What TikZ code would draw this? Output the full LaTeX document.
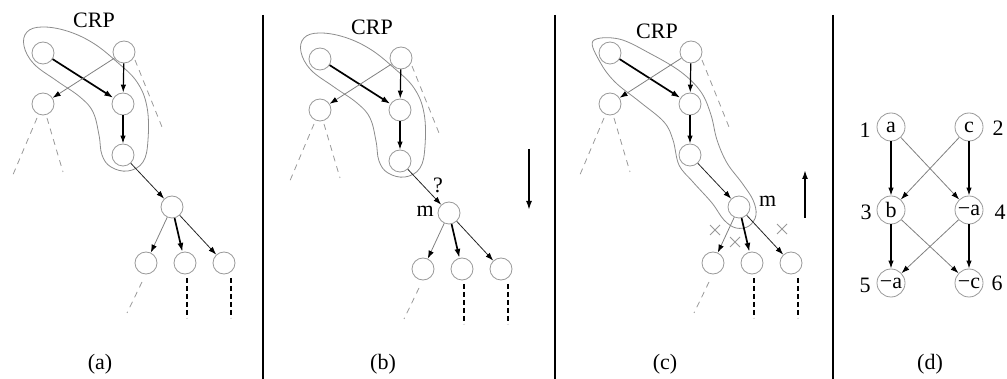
\documentclass[tikz,border=0pt]{standalone}
\usepackage{fontspec}
\setmainfont{Liberation Serif}
\usetikzlibrary{arrows.meta}
\tikzset{
  nd/.style={circle,draw=black!40,line width=0.8pt,minimum size=22pt,inner sep=0pt},
  dnd/.style={circle,draw=black!40,line width=0.8pt,minimum size=28pt,inner sep=0pt,font=\fontsize{22}{24}\selectfont},
  bold/.style={line width=1.7pt,-{Latex[length=9pt,width=6pt]}},
  arr/.style={line width=1.2pt,-{Latex[length=8pt,width=5.5pt]}},
  thin/.style={draw=black!50,line width=0.8pt,-{Latex[length=8pt,width=5.5pt,color=black]}},
  dark/.style={draw=black!85,line width=0.8pt,-{Latex[length=8pt,width=5.5pt,color=black]}},
  ghost/.style={draw=black!40,line width=0.8pt,dash pattern=on 6pt off 5pt},
  cont/.style={line width=1.6pt,dash pattern=on 5pt off 3pt},
  lbl/.style={font=\fontsize{22}{26}\selectfont,inner sep=0pt},
  blob/.style={draw=black!45,line width=0.8pt},
  sep/.style={line width=1.6pt},
  xmark/.style={draw=black!40,line width=0.8pt},
}
% one search tree: prefix #1 names its nodes
\newcommand{\searchtree}[1]{%
  \node[nd] (#1r) at (43,53) {};
  \node[nd] (#1s) at (124,52) {};
  \node[nd] (#1l) at (43,104) {};
  \node[nd] (#1p) at (123,104) {};
  \node[nd] (#1q) at (123,155) {};
  \node[nd] (#1m) at (172,207) {};
  \node[nd] (#1c1) at (146,263) {};
  \node[nd] (#1c2) at (185,263) {};
  \node[nd] (#1c3) at (224,263) {};
  \draw[bold] (#1r) -- (#1p);
  \draw[arr] (#1s) -- (#1p);
  \draw[thin] (#1s) -- (#1l);
  \draw[arr] (#1p) -- (#1q);
  \draw[dark] (#1q) -- (#1m);
  \draw[thin] (#1m) -- (#1c1);
  \draw[bold] (#1m) -- (#1c2);
  \draw[dark] (#1m) -- (#1c3);
  % unexplored subtrees
  \coordinate (#1g1) at (37,118); \coordinate (#1g2) at (12,177);
  \coordinate (#1g3) at (47,118); \coordinate (#1g4) at (63,172);
  \coordinate (#1g5) at (135,60); \coordinate (#1g6) at (162,127);
  \coordinate (#1g7) at (142,282); \coordinate (#1g8) at (127,313);
  \draw[ghost] (#1g1) -- (#1g2);
  \draw[ghost] (#1g3) -- (#1g4);
  \draw[ghost] (#1g5) -- (#1g6);
  \draw[ghost] (#1g7) -- (#1g8);
  \coordinate (#1k1) at (187,278); \coordinate (#1k2) at (187,318);
  \coordinate (#1k3) at (231,278); \coordinate (#1k4) at (231,318);
  \draw[cont] (#1k1) -- (#1k2);
  \draw[cont] (#1k3) -- (#1k4);
}
\newcommand{\crpblob}{%
  \draw[blob] plot[smooth cycle,tension=0.65] coordinates {
    (27,32) (42,27) (67,31) (93,43) (117,62) (137,82) (147,107) (148,140)
    (143,162) (128,171) (111,167) (102,155) (99,135) (93,112) (80,97)
    (57,81) (34,64) (24,46)};
}
\begin{document}
\begin{tikzpicture}[x=1pt,y=-1pt]
\useasboundingbox (0,0) rectangle (1007,379);

% separators
\draw[sep] (263,15) -- (263,379);
\draw[sep] (555,15) -- (555,379);
\draw[sep] (833,15) -- (833,379);

% (a)
\begin{scope}
  \crpblob
  \searchtree{a}
  \node[lbl] (acrp) at (94,20) {CRP};
\end{scope}
\node[lbl] (capa) at (100,364) {(a)};

% (b)
\begin{scope}[shift={(277,6)}]
  \crpblob
  \searchtree{b}
  \node[lbl] (bcrp) at (95,21) {CRP};
  \node[lbl] (bq) at (161,179) {?};
  \node[lbl,anchor=east] (bmlab) at (157,205) {m};
\end{scope}
\coordinate (bdt) at (529,149); \coordinate (bdb) at (529,210);
\draw[bold] (bdt) -- (bdb);
\node[lbl] (capb) at (383,364) {(b)};

% (c)
\begin{scope}[shift={(567,0)}]
  \draw[blob] plot[smooth cycle,tension=0.6] coordinates {
    (26,41) (52,39) (84,54) (114,72) (134,92) (144,115) (150,140) (160,163)
    (175,183) (186,200) (189,215) (182,226) (169,228) (157,220) (145,203)
    (126,182) (112,165) (106,140) (97,122) (73,102) (48,82) (33,62)};
  \searchtree{c}
  \node[lbl] (ccrp) at (90,31) {CRP};
  \node[lbl,anchor=west] (cmlab) at (192,201) {m};
\end{scope}
\draw[xmark] (710,225) -- (720,235) (710,235) -- (720,225);
\draw[xmark] (730,237) -- (740,247) (730,247) -- (740,237);
\draw[xmark] (777,224) -- (787,234) (777,234) -- (787,224);
\coordinate (cub) at (805,218); \coordinate (cut) at (805,170);
\draw[bold] (cub) -- (cut);
\node[lbl] (capc) at (665,364) {(c)};

% (d)
\node[dnd] (d1) at (891,127) {a};
\node[dnd] (d2) at (969,127) {c};
\node[dnd] (d3) at (891,210) {b};
\node[dnd] (d4) at (969,210) {−a};
\node[dnd] (d5) at (891,283) {−a};
\node[dnd] (d6) at (969,283) {−c};
\draw[arr] (d1) -- (d3);
\draw[arr] (d2) -- (d4);
\draw[arr] (d3) -- (d5);
\draw[arr] (d4) -- (d6);
\draw[thin] (d1) -- (d4);
\draw[thin] (d2) -- (d3);
\draw[thin] (d3) -- (d6);
\draw[thin] (d4) -- (d5);
\node[lbl] (l1) at (865,130) {1};
\node[lbl] (l2) at (998,128) {2};
\node[lbl] (l3) at (866,212) {3};
\node[lbl] (l4) at (1000,212) {4};
\node[lbl] (l5) at (865,285) {5};
\node[lbl] (l6) at (997,283) {6};
\node[lbl] (capd) at (930,364) {(d)};
\end{tikzpicture}
\end{document}
